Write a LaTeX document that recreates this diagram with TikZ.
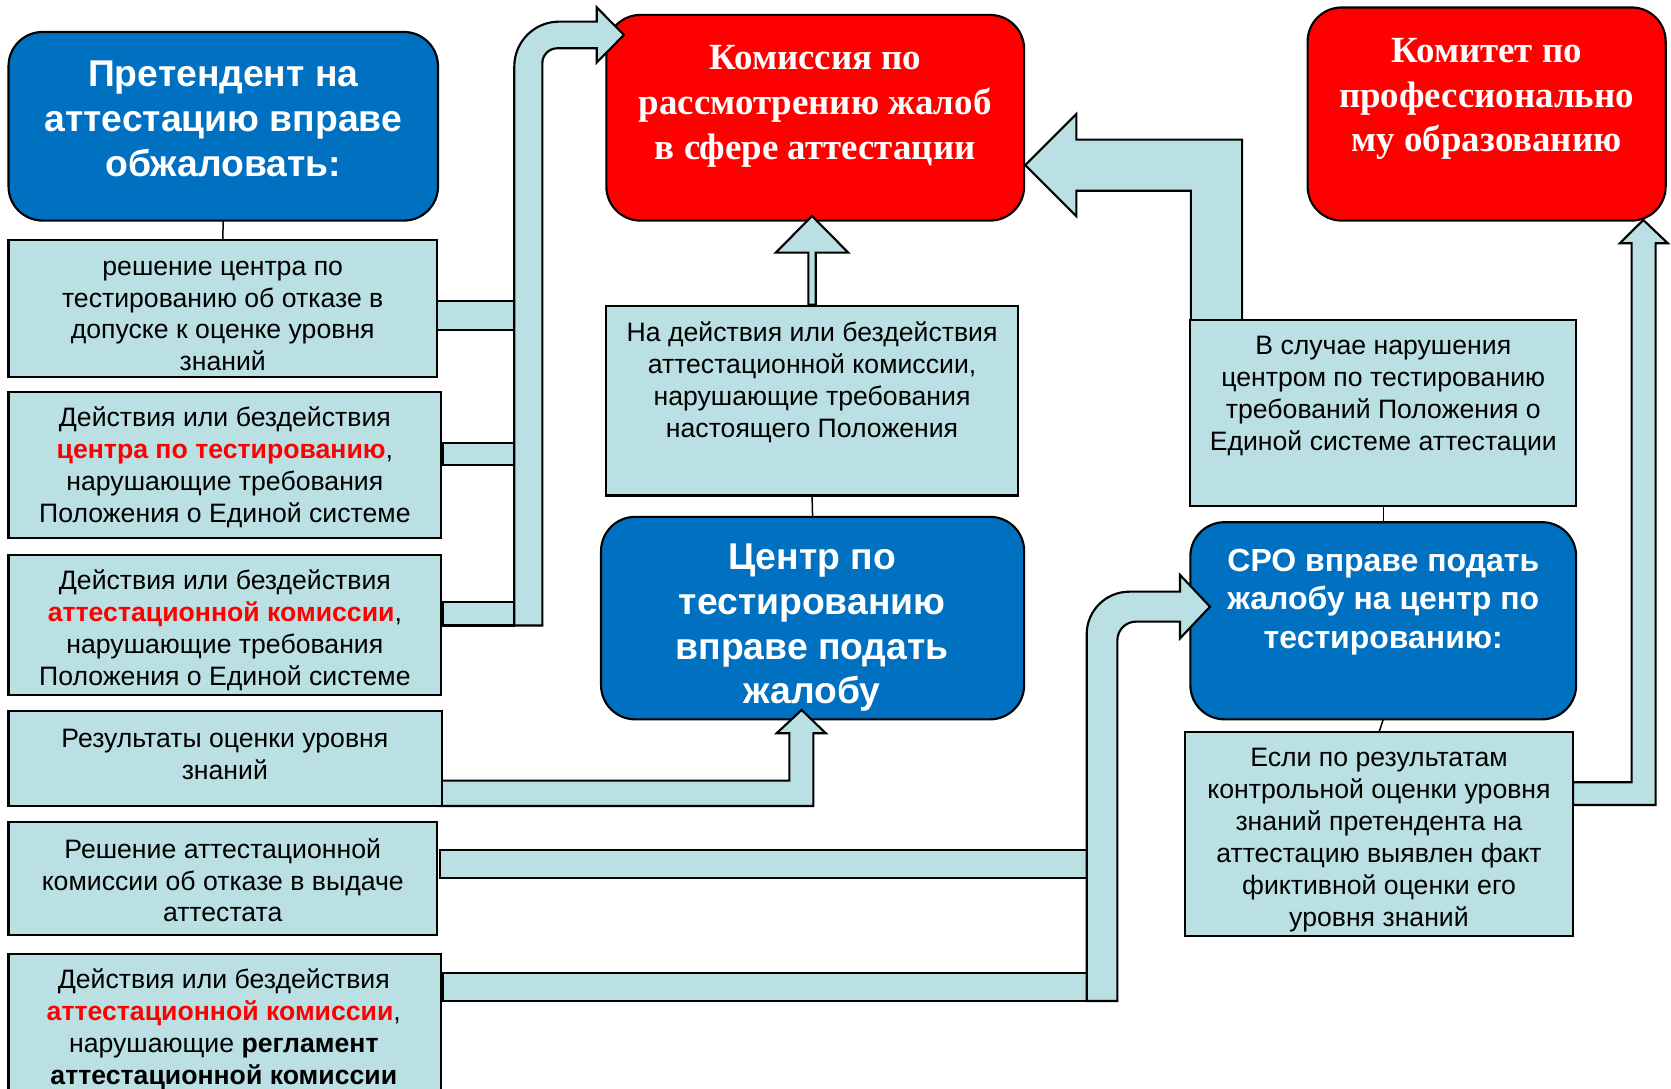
\documentclass[tikz,border=0pt]{standalone}
\usepackage{fontspec}
\setmainfont{Liberation Sans}
\newfontfamily\tnr{Liberation Serif}
\definecolor{lb}{HTML}{BAE0E3}
\definecolor{bl}{HTML}{0070C0}
\definecolor{rd}{HTML}{FF0000}
\newcommand\mkbox[6]{\node[#2, minimum width={(#5-#3)*0.5pt}, minimum height={(#6-#4)*0.5pt}] (#1) at ({(#3+#5)/2},{(#4+#6)/2}) {};}
\tikzset{
  lbox/.style={draw=black, fill=lb, line width=1pt, inner sep=0pt, outer sep=0pt},
  rbox/.style={draw=black, fill=rd, line width=1pt, rounded corners=16pt, inner sep=0pt, outer sep=0pt},
  bbox/.style={draw=black, fill=bl, line width=1pt, rounded corners=16pt, inner sep=0pt, outer sep=0pt},
  barrow/.style={draw=black, fill=lb, line width=1pt, line join=miter},
  ltxt/.style={align=center, font=\fontsize{12.5}{15}\selectfont, text=black, inner sep=0pt},
  wtxt/.style={align=center, font=\fontsize{17.5}{21}\selectfont\bfseries, text=white, inner sep=0pt},
  wstxt/.style={align=center, font=\fontsize{15}{18}\selectfont\bfseries, text=white, inner sep=0pt},
  stxt/.style={align=center, font=\fontsize{17.3}{21}\selectfont\tnr\bfseries, text=white, inner sep=0pt},
  link/.style={draw=black, line width=0.7pt}
}
\begin{document}
\begin{tikzpicture}[x=0.5pt, y=-0.5pt]
\useasboundingbox (0,0) rectangle (1568,1021);
\fill[white] (0,0) rectangle (1568,1021);
% target boxes
\mkbox{pret}{bbox}{8}{30}{411}{207}
\mkbox{kom}{rbox}{569}{14}{961}{207}
\mkbox{komitet}{rbox}{1227}{7}{1563}{207}
\mkbox{centr}{bbox}{564}{485}{961}{675}
\mkbox{sro}{bbox}{1117}{490}{1479}{675}
% top bent arrow and its bars
\draw[barrow] (410.4,282.1) rectangle (482.6,309.7);
\draw[barrow] (415.4,416) rectangle (482.6,436.3);
\draw[barrow] (415.4,564.6) rectangle (482.6,587);
\draw[barrow] (482.6,587) -- (482.6,62.3) .. controls (482.6,39.1) and (501.4,20.3) .. (524.6,20.3) -- (559.9,20.3) -- (559.9,6.9) -- (585.5,32.8) -- (559.9,58.7) -- (559.9,45.3) -- (522.9,45.3) .. controls (515.2,45.3) and (508.9,51.6) .. (508.9,59.3) -- (508.9,587) -- cycle;
% middle up arrow
\draw[barrow] (758.5,286) -- (758.5,237.1) -- (727.9,237.1) -- (762,202.7) -- (796,237.1) -- (765.4,237.1) -- (765.4,286) -- cycle;
% big left arrow
\draw[barrow] (962,155) -- (1010,107) -- (1010,131) -- (1165.5,131) -- (1165.5,301) -- (1117.5,301) -- (1117.5,179) -- (1010,179) -- (1010,203) -- cycle;
% B4 arrow
\draw[barrow] (412.9,732.5) -- (740.7,732.5) -- (740.7,688) -- (728.8,688) -- (752.2,666.2) -- (774.8,688) -- (763.2,688) -- (763.2,756.3) -- (412.9,756.3) -- cycle;
% bottom bent arrow
\draw[barrow] (412.9,797.6) rectangle (1019.7,824.2);
\draw[barrow] (415.4,912.7) rectangle (1048.5,939.3);
\draw[barrow] (1019.7,939.3) -- (1019.7,595.2) .. controls (1019.7,573.1) and (1037.6,555.2) .. (1059.7,555.2) -- (1107.3,555.2) -- (1107.3,539.5) -- (1135.4,569.3) -- (1107.3,599) -- (1107.3,583.3) -- (1066,583.3) .. controls (1056.3,583.3) and (1048.5,591.1) .. (1048.5,600.8) -- (1048.5,939.3) -- cycle;
% right arrow
\draw[barrow] (1476,734) -- (1531,734) -- (1531,228.3) -- (1520,228.3) -- (1542,206.4) -- (1565,228.3) -- (1553.5,228.3) -- (1553.5,755.4) -- (1476,755.4) -- cycle;
% source boxes
\mkbox{b1}{lbox}{8}{225}{410}{354}
\mkbox{b2}{lbox}{8}{368}{413.5}{505}
\mkbox{b3}{lbox}{8}{521}{414}{652}
\mkbox{b4}{lbox}{8}{667}{415}{756}
\mkbox{b5}{lbox}{8}{771}{410}{877}
\mkbox{b6}{lbox}{8}{895}{413.5}{1040}
\mkbox{mid}{lbox}{569}{287}{955}{465}
\mkbox{right}{lbox}{1117}{300}{1479}{475}
\mkbox{esli}{lbox}{1112}{687}{1476}{878}
% thin links
\draw[link] (pret.south) -- (b1.north);
\draw[link] (mid.south) -- (centr.north);
\draw[link] (right.south) -- (sro.north);
\draw[link] (sro.south) -- (esli.north);
% texts
\node[wtxt] (tpret) at (209.5,111.5) {Претендент на\\аттестацию вправе\\обжаловать:};
\node[stxt] (tkom) at (765,100) {Комиссия по\\рассмотрению жалоб\\в сфере аттестации};
\node[stxt] (tkomitet) at (1395,93) {Комитет по\\профессионально\\му образованию};
\node[wtxt] (tcentr) at (762,589) {Центр по\\тестированию\\вправе подать\\жалобу};
\node[wstxt] (tsro) at (1298,565) {СРО вправе подать\\жалобу на центр по\\тестированию:};
\node[ltxt] (tb1) at (209,296.5) {решение центра по\\тестированию об отказе в\\допуске к оценке уровня\\знаний};
\node[ltxt] (tb2) at (211,438.5) {Действия или бездействия\\{\color{rd}\bfseries центра по тестированию},\\нарушающие требования\\Положения о Единой системе};
\node[ltxt] (tb3) at (211,591.5) {Действия или бездействия\\{\color{rd}\bfseries аттестационной комиссии},\\нарушающие требования\\Положения о Единой системе};
\node[ltxt] (tb4) at (211,708) {Результаты оценки уровня\\знаний};
\node[ltxt] (tb5) at (209,826) {Решение аттестационной\\комиссии об отказе в выдаче\\аттестата};
\node[ltxt] (tb6) at (210,966) {Действия или бездействия\\{\color{rd}\bfseries аттестационной комиссии},\\нарушающие {\bfseries регламент}\\{\bfseries аттестационной комиссии}};
\node[ltxt] (tmid) at (762,358.5) {На действия или бездействия\\аттестационной комиссии,\\нарушающие требования\\настоящего Положения};
\node[ltxt] (tright) at (1298,371.5) {В случае нарушения\\центром по тестированию\\требований Положения о\\Единой системе аттестации};
\node[ltxt] (tesli) at (1294,788) {Если по результатам\\контрольной оценки уровня\\знаний претендента на\\аттестацию выявлен факт\\фиктивной оценки его\\уровня знаний};
\end{tikzpicture}
\end{document}
